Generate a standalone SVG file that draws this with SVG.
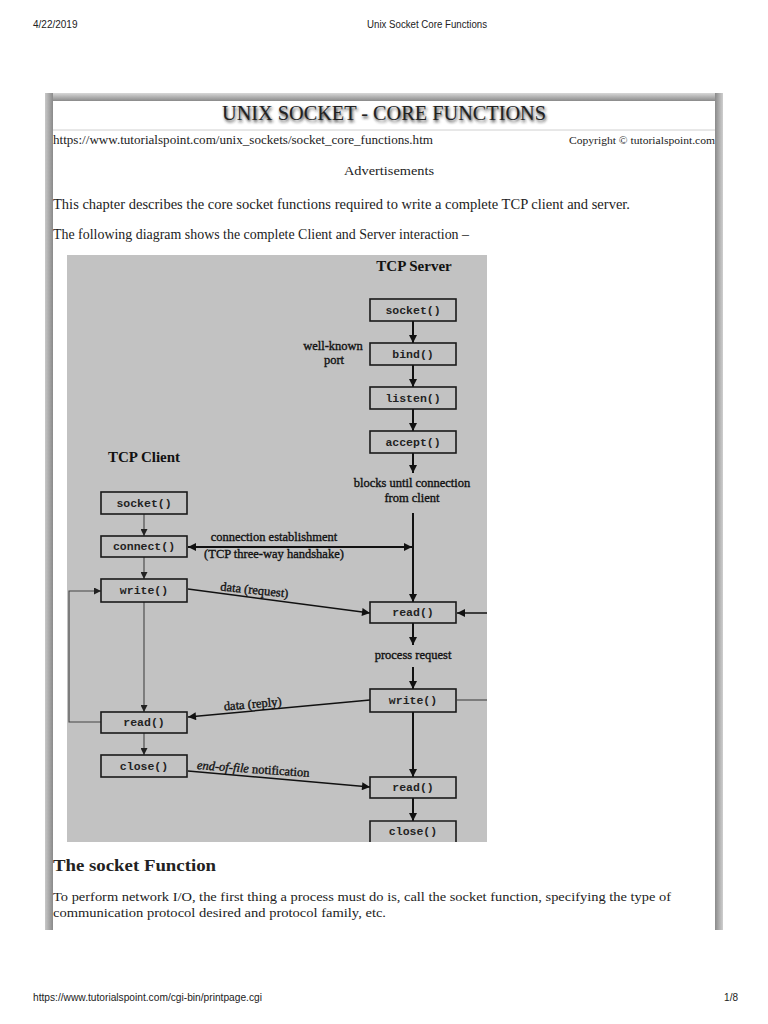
<svg xmlns="http://www.w3.org/2000/svg" width="768" height="1024" viewBox="0 0 768 1024">
<style>
.hdr{font-family:"Liberation Sans",Arial,sans-serif;font-size:10px;fill:#222}
.body{font-family:"Liberation Serif","DejaVu Serif",serif;fill:#222}
.box{fill:#c2c2c2;stroke:#1a1a1a;stroke-width:1.6}
.fn{font-family:"Liberation Mono","DejaVu Sans Mono",monospace;font-weight:bold;font-size:11.5px;fill:#222;text-anchor:middle}
.lbl{font-family:"Liberation Serif","DejaVu Serif",serif;font-size:12.5px;fill:#111;stroke:#111;stroke-width:0.35;text-anchor:middle}
.ttl{font-family:"Liberation Serif","DejaVu Serif",serif;font-size:15px;font-weight:bold;fill:#111;text-anchor:middle}
.thick{stroke:#111;stroke-width:2;fill:none}
.mid{stroke:#111;stroke-width:1.5;fill:none}
.thin{stroke:#444;stroke-width:1.1;fill:none}
</style>
<defs>
<marker id="ah" viewBox="0 0 10 10" refX="10" refY="5" markerWidth="10" markerHeight="8" markerUnits="userSpaceOnUse" orient="auto-start-reverse">
<path d="M0,0 L10,5 L0,10 z" fill="#111"/>
</marker>
<marker id="ahs" viewBox="0 0 10 10" refX="10" refY="5" markerWidth="9" markerHeight="7" markerUnits="userSpaceOnUse" orient="auto-start-reverse">
<path d="M0,0 L10,5 L0,10 z" fill="#222"/>
</marker>
<linearGradient id="gTop" x1="0" y1="0" x2="0" y2="1">
<stop offset="0" stop-color="#d8d8d8"/><stop offset="1" stop-color="#8a8a8a"/>
</linearGradient>
<linearGradient id="gLeft" x1="0" y1="0" x2="1" y2="0">
<stop offset="0" stop-color="#c8c8c8"/><stop offset="1" stop-color="#8a8a8a"/>
</linearGradient>
<linearGradient id="gRight" x1="0" y1="0" x2="1" y2="0">
<stop offset="0" stop-color="#8a8a8a"/><stop offset="1" stop-color="#cfcfcf"/>
</linearGradient>
<filter id="soft" x="-5%" y="-30%" width="110%" height="160%">
<feGaussianBlur stdDeviation="1.6"/>
</filter>
</defs>

<rect width="768" height="1024" fill="#fff"/>

<!-- page header / footer -->
<text class="hdr" x="33" y="28">4/22/2019</text>
<text class="hdr" x="367" y="28" textLength="120" lengthAdjust="spacingAndGlyphs">Unix Socket Core Functions</text>
<text class="hdr" x="33" y="1001" textLength="229" lengthAdjust="spacingAndGlyphs">https://www.tutorialspoint.com/cgi-bin/printpage.cgi</text>
<text class="hdr" x="738" y="1001" text-anchor="end">1/8</text>

<!-- frame -->
<rect x="45" y="93" width="678" height="8" fill="url(#gTop)"/>
<rect x="45" y="93" width="8" height="837" fill="url(#gLeft)"/>
<rect x="715" y="93" width="8" height="837" fill="url(#gRight)"/>
<line x1="53" y1="130" x2="715" y2="130" stroke="#d0d0d0" stroke-width="1"/>

<!-- page texts -->
<text class="body" x="385" y="122" font-size="22" text-anchor="middle" textLength="324" lengthAdjust="spacingAndGlyphs" fill="#aaa" filter="url(#soft)">UNIX SOCKET - CORE FUNCTIONS</text>
<text class="body" x="384" y="120" font-size="22" text-anchor="middle" textLength="324" lengthAdjust="spacingAndGlyphs" fill="#111">UNIX SOCKET - CORE FUNCTIONS</text>
<text class="body" x="53" y="144" font-size="11.5" fill="#555" textLength="380" lengthAdjust="spacingAndGlyphs">https://www.tutorialspoint.com/unix_sockets/socket_core_functions.htm</text>
<text class="body" x="569" y="144" font-size="10" fill="#555" textLength="146" lengthAdjust="spacingAndGlyphs">Copyright © tutorialspoint.com</text>
<text class="body" x="344" y="175" font-size="13" textLength="90" lengthAdjust="spacingAndGlyphs">Advertisements</text>
<text class="body" x="53" y="209" font-size="14" textLength="577" lengthAdjust="spacingAndGlyphs">This chapter describes the core socket functions required to write a complete TCP client and server.</text>
<text class="body" x="53" y="239" font-size="14" textLength="416" lengthAdjust="spacingAndGlyphs">The following diagram shows the complete Client and Server interaction –</text>
<text class="body" x="53" y="871" font-size="17" font-weight="bold" fill="#111" textLength="163" lengthAdjust="spacingAndGlyphs">The socket Function</text>
<text class="body" x="53" y="901" font-size="13.5" textLength="618" lengthAdjust="spacingAndGlyphs">To perform network I/O, the first thing a process must do is, call the socket function, specifying the type of</text>
<text class="body" x="53" y="917" font-size="13.5" textLength="333" lengthAdjust="spacingAndGlyphs">communication protocol desired and protocol family, etc.</text>

<!-- diagram background -->
<rect x="67" y="255" width="420" height="587" fill="#c2c2c2"/>

<text class="ttl" x="414" y="271">TCP Server</text>
<text class="ttl" x="144" y="462">TCP Client</text>

<!-- connectors -->
<g id="connectors">
<line class="thick" x1="413" y1="321" x2="413" y2="343" marker-end="url(#ah)"/>
<line class="thick" x1="413" y1="365" x2="413" y2="387" marker-end="url(#ah)"/>
<line class="thick" x1="413" y1="409" x2="413" y2="431" marker-end="url(#ah)"/>
<line class="thick" x1="413" y1="453" x2="413" y2="473" marker-end="url(#ah)"/>
<line class="thick" x1="413" y1="513" x2="413" y2="602" marker-end="url(#ah)"/>
<line class="thick" x1="413" y1="623" x2="413" y2="645" marker-end="url(#ah)"/>
<line class="thick" x1="413" y1="667" x2="413" y2="689" marker-end="url(#ah)"/>
<line class="thick" x1="413" y1="712" x2="413" y2="777" marker-end="url(#ah)"/>
<line class="thick" x1="413" y1="798" x2="413" y2="821" marker-end="url(#ah)"/>

<line class="thin" x1="144" y1="514" x2="144" y2="536" marker-end="url(#ahs)"/>
<line class="thin" x1="144" y1="557" x2="144" y2="579" marker-end="url(#ahs)"/>
<line class="thin" x1="144" y1="602" x2="144" y2="712" marker-end="url(#ahs)"/>
<line class="thin" x1="144" y1="733" x2="144" y2="755" marker-end="url(#ahs)"/>
<polyline class="thin" points="101,722 69,722 69,591 101,591" marker-end="url(#ahs)"/>

<line class="thick" x1="188" y1="547" x2="412" y2="547" marker-start="url(#ah)" marker-end="url(#ah)"/>
<line class="mid" x1="188" y1="589" x2="370" y2="613" marker-end="url(#ah)"/>
<line class="mid" x1="370" y1="700" x2="188" y2="717" marker-end="url(#ah)"/>
<line class="mid" x1="188" y1="771" x2="370" y2="787" marker-end="url(#ah)"/>

<line class="mid" x1="487" y1="613" x2="457" y2="613" marker-end="url(#ah)"/>
<line class="thin" x1="457" y1="700" x2="487" y2="700"/>

<text class="lbl" x="333" y="350">well-known</text>
<text class="lbl" x="334" y="364">port</text>
<text class="lbl" x="412" y="487">blocks until connection</text>
<text class="lbl" x="412" y="502">from client</text>
<text class="lbl" x="274" y="541">connection establishment</text>
<text class="lbl" x="274" y="558">(TCP three-way handshake)</text>
<text class="lbl" x="254" y="594" transform="rotate(6 254 594)">data (request)</text>
<text class="lbl" x="413" y="659">process request</text>
<text class="lbl" x="253" y="708" transform="rotate(-5 253 708)">data (reply)</text>
<text class="lbl" x="253" y="773" transform="rotate(4 253 773)"><tspan font-style="italic">end-of-file</tspan> notification</text>
</g>

<!-- server nodes -->
<g id="srv-socket"><rect class="box" x="370" y="299" width="86" height="22"/><text class="fn" x="413" y="314">socket()</text></g>
<g id="srv-bind"><rect class="box" x="370" y="343" width="86" height="22"/><text class="fn" x="413" y="358">bind()</text></g>
<g id="srv-listen"><rect class="box" x="370" y="387" width="86" height="22"/><text class="fn" x="413" y="402">listen()</text></g>
<g id="srv-accept"><rect class="box" x="370" y="431" width="86" height="22"/><text class="fn" x="413" y="446">accept()</text></g>
<g id="srv-read1"><rect class="box" x="370" y="602" width="86" height="21"/><text class="fn" x="413" y="616">read()</text></g>
<g id="srv-write"><rect class="box" x="370" y="689" width="86" height="23"/><text class="fn" x="413" y="704">write()</text></g>
<g id="srv-read2"><rect class="box" x="370" y="777" width="86" height="21"/><text class="fn" x="413" y="791">read()</text></g>
<g id="srv-close"><path class="box" d="M370,842 V821 H456 V842"/><text class="fn" x="413" y="835">close()</text></g>

<!-- client nodes -->
<g id="cli-socket"><rect class="box" x="101" y="492" width="86" height="22"/><text class="fn" x="144" y="507">socket()</text></g>
<g id="cli-connect"><rect class="box" x="101" y="536" width="86" height="21"/><text class="fn" x="144" y="550">connect()</text></g>
<g id="cli-write"><rect class="box" x="101" y="579" width="86" height="23"/><text class="fn" x="144" y="594">write()</text></g>
<g id="cli-read"><rect class="box" x="101" y="712" width="86" height="21"/><text class="fn" x="144" y="726">read()</text></g>
<g id="cli-close"><rect class="box" x="101" y="755" width="86" height="22"/><text class="fn" x="144" y="770">close()</text></g>
</svg>
